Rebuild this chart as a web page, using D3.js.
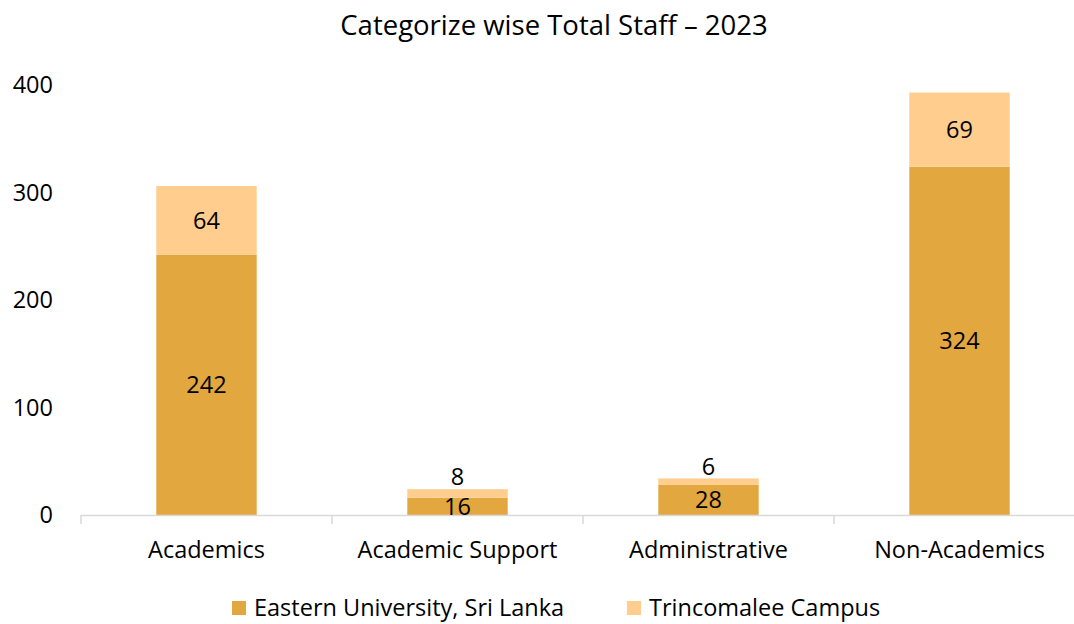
<!DOCTYPE html>
<html>
<head>
<meta charset="utf-8">
<script src="https://cdn.jsdelivr.net/npm/d3@7"></script>
<style>
  body { margin: 0; background: #fff; }
  text { font-family: "Open Sans", "Noto Sans", sans-serif; fill: #000; }
</style>
</head>
<body>
<svg id="chart"></svg>
<script>
// data
const categories = ["Academics", "Academic Support", "Administrative", "Non-Academics"];
const seriesNames = ["Eastern University, Sri Lanka", "Trincomalee Campus"];
const easternValues = [242, 16, 28, 324];
const trincoValues = [64, 8, 6, 69];
const yTicks = [0, 100, 200, 300, 400];
const colors = ["#E2A73F", "#FFCD8E"];

const width = 1074, height = 624;
const margin = {top: 85, left: 81, right: -11, bottom: 109};
const fontSize = "23.5px";

const svg = d3.select("#chart")
  .attr("width", width)
  .attr("height", height);

const x = d3.scaleBand()
  .domain(categories)
  .range([margin.left, width - margin.right])
  .paddingInner(0.6)
  .paddingOuter(0.3);

const y = d3.scaleLinear()
  .domain([0, 400])
  .range([height - margin.bottom, margin.top]);

// title
svg.append("text")
  .attr("x", 554)
  .attr("y", 35)
  .attr("text-anchor", "middle")
  .style("font-size", "27.5px")
  .text("Categorize wise Total Staff \u2013 2023");

// y axis labels (no line, no grid)
svg.selectAll(".ylab")
  .data(yTicks)
  .enter()
  .append("text")
  .attr("class", "ylab")
  .attr("x", 53)
  .attr("y", d => y(d))
  .attr("dy", "0.35em")
  .attr("text-anchor", "end")
  .style("font-size", fontSize)
  .text(d => d);

// stacked data
const rows = categories.map((c, i) => ({cat: c, a: easternValues[i], b: trincoValues[i]}));
const stacked = d3.stack().keys(["a", "b"])(rows);

svg.selectAll(".series")
  .data(stacked)
  .enter()
  .append("g")
  .attr("fill", (d, i) => colors[i])
  .selectAll("rect")
  .data(d => d)
  .enter()
  .append("rect")
  .attr("x", d => x(d.data.cat))
  .attr("width", x.bandwidth())
  .attr("y", d => y(d[1]))
  .attr("height", d => y(d[0]) - y(d[1]));

// x axis
const axisY = y(0);
svg.append("line")
  .attr("x1", margin.left).attr("x2", width - margin.right)
  .attr("y1", axisY + 0.5).attr("y2", axisY + 0.5)
  .attr("stroke", "#D9D9D9")
  .attr("stroke-width", 1.5);

const step = x.step();
const tickXs = d3.range(categories.length + 1).map(i => margin.left + i * step);
svg.selectAll(".xtick")
  .data(tickXs)
  .enter()
  .append("line")
  .attr("x1", d => d).attr("x2", d => d)
  .attr("y1", axisY).attr("y2", axisY + 9)
  .attr("stroke", "#D9D9D9")
  .attr("stroke-width", 1.5);

svg.selectAll(".xlab")
  .data(categories)
  .enter()
  .append("text")
  .attr("x", d => x(d) + x.bandwidth() / 2)
  .attr("y", 558)
  .attr("text-anchor", "middle")
  .style("font-size", fontSize)
  .text(d => d);

// data labels
stacked.forEach(function(layer, li){
  svg.selectAll(".lab" + li)
    .data(layer)
    .enter()
    .append("text")
    .attr("x", d => x(d.data.cat) + x.bandwidth() / 2)
    .attr("y", function(d){
      let h = y(d[0]) - y(d[1]);
      if (li == 1 && h < 20) return y(d[1]) - 12;
      return (y(d[0]) + y(d[1])) / 2;
    })
    .attr("dy", "0.35em")
    .attr("text-anchor", "middle")
    .style("font-size", fontSize)
    .text(d => d[1] - d[0]);
});

// legend
const legend = svg.append("g").attr("transform", "translate(0,608)");
const legendXs = [232, 627];
seriesNames.forEach(function(name, i){
  legend.append("rect")
    .attr("x", legendXs[i]).attr("y", -7)
    .attr("width", 14).attr("height", 14)
    .attr("fill", colors[i]);
  legend.append("text")
    .attr("x", legendXs[i] + 22)
    .attr("y", 0)
    .attr("dy", "0.35em")
    .style("font-size", fontSize)
    .text(name);
});
</script>
</body>
</html>
